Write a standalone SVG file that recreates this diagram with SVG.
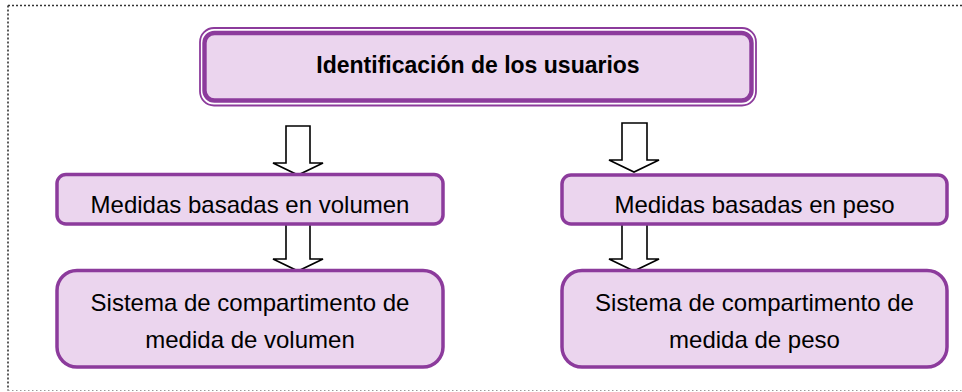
<svg xmlns="http://www.w3.org/2000/svg" width="962" height="392" viewBox="0 0 962 392">
<style>
.box{fill:#EBD5EE;stroke:#8C3B9C;stroke-width:3.5}
.inner{fill:none;stroke:#F2E4F4;stroke-width:1.5}
.arrow{fill:#FFFFFF;stroke:#000000;stroke-width:1.6;stroke-linejoin:miter}
.t{font-family:"Liberation Sans",Arial,sans-serif;font-size:24px;fill:#000000;text-anchor:middle}
.tb{font-family:"Liberation Sans",Arial,sans-serif;font-size:23px;font-weight:bold;fill:#000000;text-anchor:middle}
</style>
<rect x="0" y="0" width="962" height="392" fill="#FFFFFF"/>
<g id="frame">
<path d="M8 5.5 H962" fill="none" stroke="#333333" stroke-width="1.6" stroke-dasharray="2 2"/>
<path d="M8 5.5 V390.5" fill="none" stroke="#333333" stroke-width="1.6" stroke-dasharray="2 2"/>
<path d="M8 390.5 H962" fill="none" stroke="#9A9A9A" stroke-width="1" stroke-dasharray="1.5 2.5"/>
</g>
<g id="connectors">
<path class="arrow" d="M286 126 H310 V163 H323 L298 175 L273 163 H286 Z"/>
<path class="arrow" d="M622 123 H647 V160 H659 L634 172 L609 160 H622 Z"/>
<path class="arrow" d="M286 223 H310 V259 H323 L298 271 L273 259 H286 Z"/>
<path class="arrow" d="M622 223 H647 V259 H659 L634 271 L609 259 H622 Z"/>
</g>
<g id="n-identificacion">
<rect x="200" y="28" width="556" height="77.5" rx="14" fill="#FFFFFF" stroke="#8C3B9C" stroke-width="1.8"/>
<rect x="204.5" y="33" width="547" height="67.5" rx="10" fill="#EBD5EE" stroke="#8C3B9C" stroke-width="4.4"/>
<text class="tb" x="478" y="73">Identificación de los usuarios</text>
</g>
<g id="n-volumen">
<rect class="box" x="57" y="174.5" width="386" height="49.5" rx="9"/>
<text class="t" x="250" y="213">Medidas basadas en volumen</text>
</g>
<g id="n-peso">
<rect class="box" x="562" y="175" width="385" height="49" rx="9"/>
<text class="t" x="754.5" y="213">Medidas basadas en peso</text>
</g>
<g id="n-sist-volumen">
<rect class="box" x="57" y="270.5" width="386" height="96.5" rx="20"/>
<text class="t" x="250" y="311">Sistema de compartimento de</text>
<text class="t" x="250" y="348">medida de volumen</text>
</g>
<g id="n-sist-peso">
<rect class="box" x="562" y="270.5" width="385" height="96.5" rx="20"/>
<text class="t" x="754.5" y="311">Sistema de compartimento de</text>
<text class="t" x="754.5" y="348">medida de peso</text>
</g>
</svg>
